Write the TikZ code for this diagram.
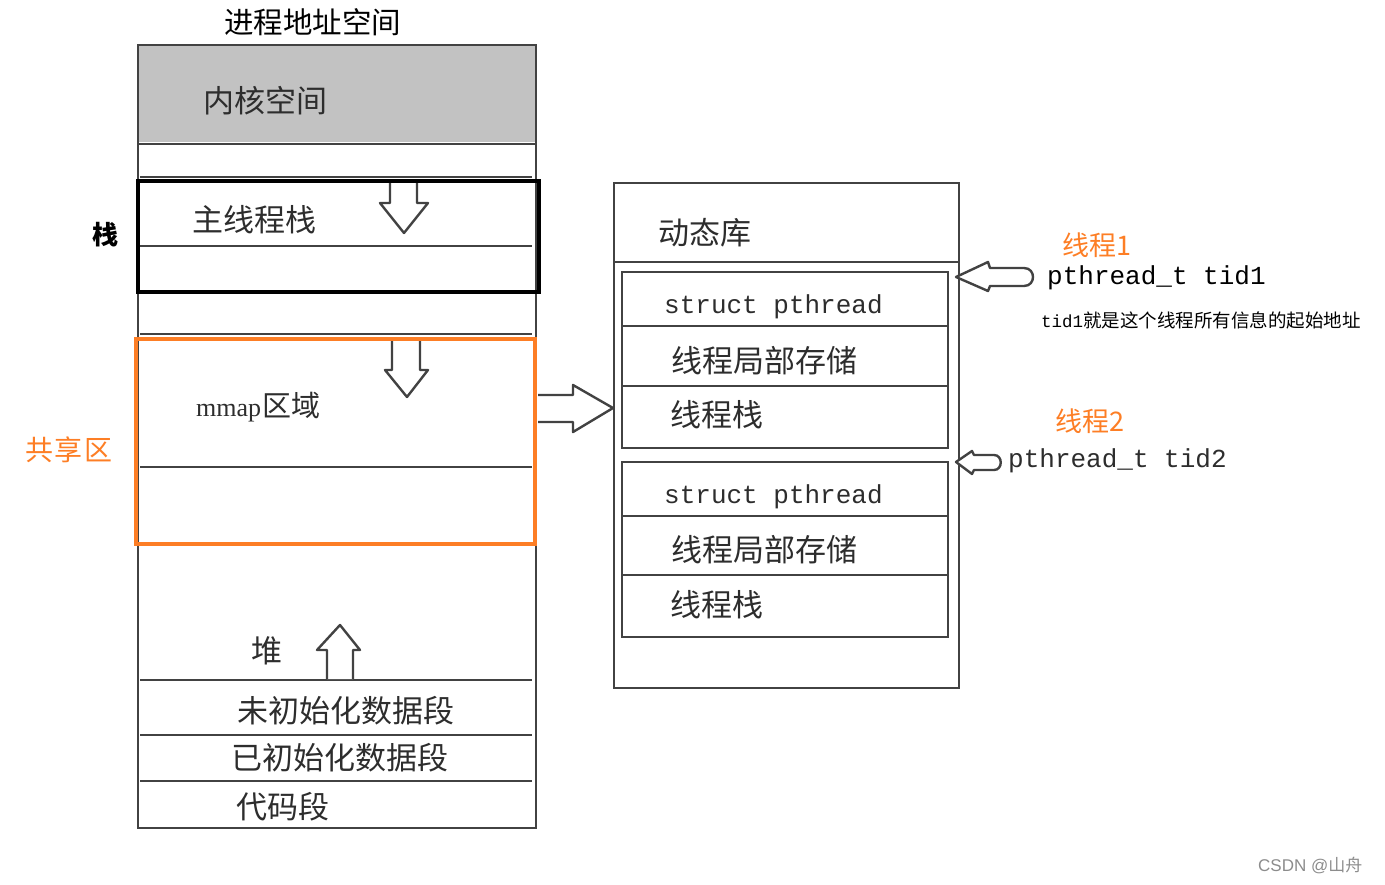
\documentclass[tikz,border=0pt]{standalone}
\usepackage{fontspec}
\setmainfont{Liberation Serif}
\newfontfamily\cjk{Noto Sans CJK SC}
\newfontfamily\mono{Liberation Mono}
\newfontfamily\lsans{Liberation Sans}
\definecolor{orng}{RGB}{253,126,37}
\definecolor{kgray}{RGB}{194,194,194}
\definecolor{pen}{RGB}{66,66,66}
\definecolor{txt}{RGB}{45,45,45}
\begin{document}
\begin{tikzpicture}[x=1pt,y=-1pt,
  sk/.style={draw=pen,line width=2.6pt},
  barrow/.style={draw=pen,line width=2.4pt,fill=white,line join=round},
  lbl/.style={inner sep=0pt,anchor=west,text=txt,font=\cjk\fontsize{31}{32}\selectfont},
  monolbl/.style={inner sep=0pt,anchor=west,text=txt,font=\mono\fontsize{26}{28}\selectfont},
  orlbl/.style={inner sep=0pt,anchor=west,text=orng,font=\cjk\fontsize{27}{28}\selectfont},
  hibox/.style={line width=4pt}
]
\useasboundingbox (0,0) rectangle (1385,885);

% ---------- process address space ----------
\fill[kgray] (138,45) rectangle (536,142);
\draw[sk] (138,45) rectangle (536,828);
\draw[sk] (138,144) -- (536,144);
\draw[sk] (140,177) -- (532,177);
\draw[sk] (140,246) -- (532,246);
\draw[sk] (140,334) -- (532,334);
\draw[sk] (140,467) -- (532,467);
\draw[sk] (140,680) -- (532,680);
\draw[sk] (140,735) -- (532,735);
\draw[sk] (140,781) -- (532,781);

% arrows inside
\draw[barrow] (390,181) -- (390,203) -- (380,203) -- (404,233) -- (428,203) -- (417,203) -- (417,181);
\draw[barrow] (392,341) -- (392,370) -- (385,370) -- (407,397) -- (428,370) -- (420,370) -- (420,341);
\draw[barrow] (327,679) -- (327,650) -- (317,650) -- (340,625) -- (360,650) -- (353,650) -- (353,679);

% highlight boxes
\draw[hibox,black] (138,181) rectangle (539,292);
\draw[hibox,orng] (136,339) rectangle (535,544);

% labels left
\node[lbl,text=black,font=\cjk\fontsize{29.5}{30}\selectfont] (title) at (224,22) {进程地址空间};
\node[lbl] (kernel) at (203,101) {内核空间};
\node[lbl] (mainstack) at (192,220) {主线程栈};
\node[lbl,text=black,font=\cjk\bfseries\fontsize{26}{28}\selectfont] (stack) at (92,235) {栈};
\node[lbl,font=\cjk\fontsize{29}{30}\selectfont] (mmap) at (196,407) {{\rmfamily\fontsize{26}{27}\selectfont mmap}\kern1pt 区域};
\node[lbl,text=orng,font=\cjk\fontsize{28}{30}\selectfont] (shared) at (25,450) {共\kern1.5pt 享\kern1.5pt 区};
\node[lbl] (heap) at (251,651) {堆};
\node[lbl] (bss) at (237,711) {未初始化数据段};
\node[lbl] (data) at (231,758) {已初始化数据段};
\node[lbl] (code) at (236,807) {代码段};

% arrow mmap -> dynamic library
\draw[barrow] (538,395) -- (573,395) -- (573,385) -- (613,408) -- (573,432) -- (573,422) -- (538,422);

% ---------- dynamic library ----------
\draw[sk] (614,183) rectangle (959,688);
\draw[sk] (614,262) -- (959,262);
\node[lbl] (lib) at (658,233) {动态库};

\draw[sk] (622,272) rectangle (948,448);
\draw[sk] (622,326) -- (948,326);
\draw[sk] (622,386) -- (948,386);
\node[monolbl] (sp1) at (664,307) {struct pthread};
\node[lbl] (tls1) at (671,361) {线程局部存储};
\node[lbl] (ts1) at (670,415) {线程栈};

\draw[sk] (622,462) rectangle (948,637);
\draw[sk] (622,516) -- (948,516);
\draw[sk] (622,575) -- (948,575);
\node[monolbl] (sp2) at (664,497) {struct pthread};
\node[lbl] (tls2) at (671,550) {线程局部存储};
\node[lbl] (ts2) at (670,605) {线程栈};

% ---------- thread handles ----------
\draw[barrow] (956,277) -- (988,262) -- (990,268) -- (1024,268) .. controls (1036,268) and (1036,286) .. (1024,286) -- (990,286) -- (988,291) -- cycle;
\draw[barrow] (956,462) -- (972,451) -- (974,455) -- (994,455) .. controls (1003,455) and (1003,470) .. (994,470) -- (974,470) -- (972,474) -- cycle;

\node[orlbl] (t1) at (1062,245) {线程1};
\node[monolbl,text=black] (tid1) at (1047,278) {pthread\_t tid1};
\node[inner sep=0pt,anchor=west,text=black,font=\cjk\fontsize{18.5}{20}\selectfont] (note) at (1041,320) {{\mono\fontsize{17.5}{19}\selectfont tid1}就是这个线程所有信息的起始地址};
\node[orlbl] (t2) at (1055,421) {线程2};
\node[monolbl] (tid2) at (1008,461) {pthread\_t tid2};

\node[inner sep=0pt,anchor=west,text=black!45,font=\lsans\fontsize{17}{18}\selectfont] (csdn) at (1258,866) {CSDN @{\cjk 山舟}};
\end{tikzpicture}
\end{document}
